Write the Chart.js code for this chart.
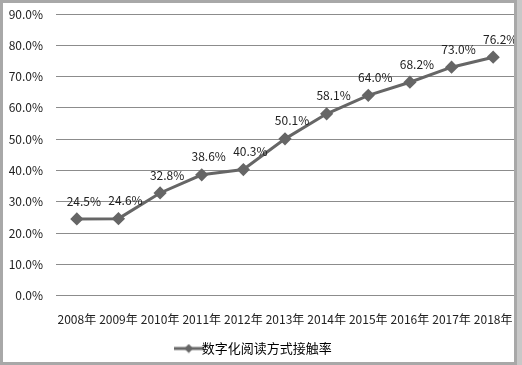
<!DOCTYPE html>
<html>
<head>
<meta charset="utf-8">
<script src="https://cdn.jsdelivr.net/npm/chart.js@4/dist/chart.umd.min.js"></script>
<style>
  html, body { margin: 0; padding: 0; background: #fff; }
  #wrap { width: 522px; height: 365px; position: relative; }
</style>
</head>
<body>
<div id="wrap"><canvas id="myChart" width="522" height="365"></canvas></div>
<script>
const years = ['2008年', '2009年', '2010年', '2011年', '2012年', '2013年', '2014年', '2015年', '2016年', '2017年', '2018年'];
const contactRate = [24.5, 24.6, 32.8, 38.6, 40.3, 50.1, 58.1, 64.0, 68.2, 73.0, 76.2];
const seriesName = '数字化阅读方式接触率';

const lineColor = '#666666';
const fontFamily = '"Noto Sans CJK SC", sans-serif';

// legend marker: short line with a diamond in the middle
const legendIcon = document.createElement('canvas');
legendIcon.width = 30;
legendIcon.height = 10;
(function () {
    const c = legendIcon.getContext('2d');
    c.strokeStyle = lineColor;
    c.lineWidth = 3;
    c.beginPath();
    c.moveTo(0, 5);
    c.lineTo(30, 5);
    c.stroke();
    c.fillStyle = lineColor;
    c.beginPath();
    c.moveTo(15, 0.5);
    c.lineTo(19.5, 5);
    c.lineTo(15, 9.5);
    c.lineTo(10.5, 5);
    c.closePath();
    c.fill();
})();

const frame = {
    id: 'frame',
    beforeDraw(chart) {
        const ctx = chart.ctx;
        ctx.save();
        ctx.fillStyle = '#fff';
        ctx.fillRect(0, 0, chart.width, chart.height);
        ctx.restore();
    },
    afterDraw(chart) {
        const ctx = chart.ctx;
        ctx.save();
        ctx.strokeStyle = '#a8a8a8';
        ctx.lineWidth = 3;
        ctx.strokeRect(1.5, 1.5, chart.width - 8, chart.height - 3);
        ctx.fillStyle = '#c8c8c8';
        ctx.fillRect(chart.width - 5, 0, 5, chart.height);
        ctx.restore();
    }
};

const valueLabels = {
    id: 'valueLabels',
    afterDatasetsDraw(chart) {
        const ctx = chart.ctx;
        const meta = chart.getDatasetMeta(0);
        ctx.save();
        ctx.font = '12px ' + fontFamily;
        ctx.fillStyle = '#222';
        ctx.textAlign = 'center';
        ctx.textBaseline = 'middle';
        meta.data.forEach((pt, i) => {
            ctx.fillText(contactRate[i].toFixed(1) + '%', pt.x + 7, pt.y - 18);
        });
        ctx.restore();
    }
};

const chartData = {
    labels: years,
    datasets: [{
        label: seriesName,
        data: contactRate,
        borderColor: lineColor,
        backgroundColor: lineColor,
        borderWidth: 3,
        pointStyle: 'rectRot',
        pointRadius: 4.5,
        pointHoverRadius: 4.5,
        tension: 0
    }]
};

const config = {
    type: 'line',
    data: chartData,
    options: {
        responsive: false,
        animation: false,
        layout: { padding: { left: 0, right: 8, top: 14, bottom: 0 } },
        plugins: {
            legend: {
                position: 'bottom',
                labels: {
                    font: { size: 13, family: fontFamily },
                    color: '#222',
                    usePointStyle: true,
                    pointStyle: legendIcon,
                    padding: 1,
                    generateLabels: () => [{
                        text: seriesName,
                        pointStyle: legendIcon,
                        fillStyle: lineColor,
                        strokeStyle: lineColor,
                        lineWidth: 0,
                        datasetIndex: 0
                    }]
                }
            },
            tooltip: { enabled: false }
        },
        scales: {
            x: {
                offset: true,
                grid: { display: false, drawTicks: true, tickLength: 14, tickColor: 'transparent' },
                border: { display: false },
                afterFit: (scale) => { scale.height += 11; },
                ticks: {
                    font: { size: 12, family: fontFamily },
                    color: '#222',
                    maxRotation: 0,
                    autoSkip: false,
                    padding: 3
                }
            },
            y: {
                min: 0,
                max: 90,
                grid: { color: '#8c8c8c', lineWidth: 1, drawTicks: true, tickLength: 10, tickColor: 'transparent' },
                border: { display: false },
                afterFit: (scale) => { scale.width = 56; },
                ticks: {
                    stepSize: 10,
                    font: { size: 12, family: fontFamily },
                    color: '#222',
                    padding: 3,
                    callback: (v) => v.toFixed(1) + '%'
                }
            }
        }
    },
    plugins: [frame, valueLabels]
};

const myChart = new Chart(document.getElementById('myChart'), config);
</script>
</body>
</html>
